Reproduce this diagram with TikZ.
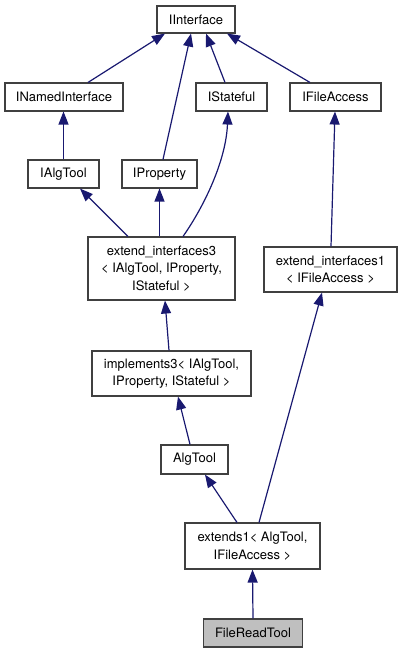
\documentclass[tikz,border=0pt]{standalone}
\usepackage{fontspec}
\setmainfont{TeX Gyre Heros}
\usepackage{xcolor}
\usetikzlibrary{arrows.meta}
\definecolor{edgeblue}{RGB}{25,25,112}
\definecolor{boxline}{RGB}{64,64,64}

\begin{document}
\begin{tikzpicture}[x=1pt,y=-1pt,
  box/.style={draw=boxline,line width=1.1pt,fill=white,align=center,inner sep=0pt,
    font=\fontsize{13}{17.5}\selectfont,minimum height=28pt},
  cur/.style={box,fill=black!25},
  inh/.style={draw=edgeblue,line width=1.2pt,-{Triangle[length=13pt,width=10pt]}}]
\useasboundingbox (0,0) rectangle (401,653);
% classes
\node[box,minimum width=78pt,minimum height=27pt] (II) at (196,19.5) {IInterface};
\node[box,minimum width=118pt] (INI) at (64,97) {INamedInterface};
\node[box,minimum width=71pt] (IS) at (231.5,97) {IStateful};
\node[box,minimum width=91pt] (IFA) at (335.5,97) {IFileAccess};
\node[box,minimum width=71pt] (IAT) at (63.5,174) {IAlgTool};
\node[box,minimum width=75pt] (IP) at (159.5,174) {IProperty};
\node[box,minimum width=147pt,minimum height=63pt] (EI3) at (161.5,268.5) {extend\_interfaces3\\< IAlgTool, IProperty,\\IStateful >};
\node[box,minimum width=133pt,minimum height=45pt] (EI1) at (330.5,269.5) {extend\_interfaces1\\< IFileAccess >};
\node[box,minimum width=159pt,minimum height=45pt] (IM3) at (171.5,373.5) {implements3< IAlgTool,\\IProperty, IStateful >};
\node[box,minimum width=67pt,minimum height=29pt] (AT) at (194.5,459.5) {AlgTool};
\node[box,minimum width=135pt,minimum height=46pt] (EX1) at (252.5,546) {extends1< AlgTool,\\IFileAccess >};
\node[cur,minimum width=99pt] (FRT) at (253,633) {FileReadTool};
% inheritance
\draw[inh] ([xshift=24pt]INI.north) -- ([xshift=-31pt]II.south);
\draw[inh] ([xshift=3.5pt]IP.north) -- ([xshift=-5pt]II.south);
\draw[inh] ([xshift=-6.5pt]IS.north) -- ([xshift=10pt]II.south);
\draw[inh] ([xshift=-25.5pt]IFA.north) -- ([xshift=31pt]II.south);
\draw[inh] (IAT.north) -- (INI.south -| IAT.north);
\draw[inh] ([xshift=-33.5pt]EI3.north) -- ([xshift=16.5pt]IAT.south);
\draw[inh] (EI3.north -| IP.south) -- (IP.south);
\draw[inh] ([xshift=21.5pt]EI3.north) .. controls (205,205) and (226,160) .. ([xshift=-3.5pt]IS.south);
\draw[inh] ([xshift=0.5pt]EI1.north) -- ([xshift=-0.5pt]IFA.south);
\draw[inh] ([xshift=-2.5pt]IM3.north) -- ([xshift=3.5pt]EI3.south);
\draw[inh] ([xshift=-4.5pt]AT.north) -- ([xshift=6.5pt]IM3.south);
\draw[inh] ([xshift=-15.5pt]EX1.north) -- ([xshift=10.5pt]AT.south);
\draw[inh] ([xshift=6.5pt]EX1.north) -- ([xshift=-8.5pt]EI1.south);
\draw[inh] (FRT.north) -- (EX1.south);
\end{tikzpicture}
\end{document}
